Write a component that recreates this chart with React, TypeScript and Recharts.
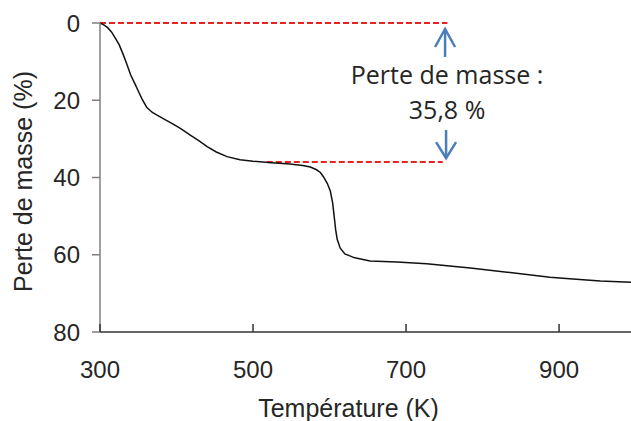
import { LineChart, Line, XAxis, YAxis, ReferenceLine, ReferenceDot } from 'recharts';

// ATG : perte de masse en fonction de la température
const temperature = [
  300, 305, 310, 315, 320, 325, 330, 335, 340, 346, 350, 355, 361, 368, 374, 385, 395, 405,
  418, 430, 440, 452, 466, 483, 500, 520, 548, 565, 575, 583, 588, 592, 597, 601, 604, 606,
  608, 610, 614, 620, 633, 653, 688, 727, 757, 784, 832, 888, 918, 954, 994,
];
const perte = [
  0, 0.5, 1.2, 2.3, 3.9, 5.6, 8.0, 10.6, 13.4, 15.9, 17.6, 19.7, 21.8, 23.1, 23.8, 25.0, 26.1, 27.3,
  29.0, 30.6, 32.0, 33.4, 34.6, 35.4, 35.8, 36.1, 36.5, 36.9, 37.3, 38.0, 38.7, 39.8, 41.5, 43.5, 46.5, 50.0,
  53.5, 56.0, 58.3, 59.8, 60.8, 61.6, 61.9, 62.3, 62.9, 63.4, 64.5, 65.8, 66.3, 66.8, 67.1,
];
const data = temperature.map((t, i) => ({ t, perte: perte[i] }));

const xTicks = [300, 500, 700, 900];
const yTicks = [0, 20, 40, 60, 80];

// annotation du palier
const niveauHaut = 0;
const niveauBas = 36;
const ligneHaut = [{ x: 300, y: niveauHaut }, { x: 754, y: niveauHaut }];
const ligneBas = [{ x: 518, y: niveauBas }, { x: 748, y: niveauBas }];
const flecheT = 751;
const noteLignes = ['Perte de masse :', '35,8 %'];

const axisFont = '"Liberation Sans", Arial, sans-serif';
const noteFont = '"Open Sans", sans-serif';
const bleu = '#4a7ebb';
const textColor = '#262626';

const XTick = ({ x, y, payload }: any) => (
  <g>
    <line x1={x} y1={y} x2={x} y2={y - 8} stroke="#333" strokeWidth={1.5} />
    <text x={x} y={y + 46} textAnchor="middle" fontFamily={axisFont} fontSize={24} fill={textColor}>
      {payload.value}
    </text>
  </g>
);

const FlecheHaut = ({ cx, cy }: any) => (
  <g>
    <line x1={cx} y1={cy + 34} x2={cx} y2={cy + 6} stroke={bleu} strokeWidth={2.5} />
    <polyline
      points={`${cx - 10},${cy + 24} ${cx},${cy + 6} ${cx + 10},${cy + 24}`}
      fill="none"
      stroke={bleu}
      strokeWidth={2.5}
    />
    <text x={cx + 2} y={cy + 61} textAnchor="middle" fontFamily={noteFont} fontSize={25} fill={textColor}>
      {noteLignes[0]}
    </text>
    <text x={cx + 2} y={cy + 96} textAnchor="middle" fontFamily={noteFont} fontSize={25} fill={textColor}>
      {noteLignes[1]}
    </text>
  </g>
);

const FlecheBas = ({ cx, cy }: any) => (
  <g>
    <line x1={cx + 1} y1={cy - 32} x2={cx + 1} y2={cy - 4} stroke={bleu} strokeWidth={2.5} />
    <polyline
      points={`${cx - 9},${cy - 20} ${cx + 1},${cy - 4} ${cx + 11},${cy - 20}`}
      fill="none"
      stroke={bleu}
      strokeWidth={2.5}
    />
  </g>
);

const YTitle = ({ viewBox }: any) => {
  const x = viewBox.x + 32;
  const y = viewBox.y + viewBox.height / 2 + 4;
  return (
    <text x={x} y={y} transform={`rotate(-90, ${x}, ${y})`} textAnchor="middle"
      fontFamily={axisFont} fontSize={25} fill={textColor}>
      Perte de masse (%)
    </text>
  );
};

const XTitle = ({ viewBox }: any) => (
  <text x={viewBox.x + viewBox.width / 2 - 17} y={viewBox.y + 85} textAnchor="middle"
    fontFamily={axisFont} fontSize={25} fill={textColor}>
    Température (K)
  </text>
);

export default function App() {
  return (
    <div style={{ position: 'absolute', left: 0, top: 0, background: '#fff' }}>
      <LineChart width={631} height={421} data={data} margin={{ top: 23, right: 0, left: 0, bottom: 0 }}>
        <XAxis
          dataKey="t"
          type="number"
          domain={[300, 994]}
          ticks={xTicks}
          allowDataOverflow
          height={89}
          tickSize={0}
          tickMargin={0}
          tick={<XTick />}
          axisLine={{ stroke: '#333', strokeWidth: 1.5 }}
          label={<XTitle />}
        />
        <YAxis
          type="number"
          reversed
          domain={[0, 80]}
          ticks={yTicks}
          width={100}
          tickSize={8}
          tickMargin={12}
          tick={{ fontFamily: axisFont, fontSize: 24, fill: textColor }}
          tickLine={{ stroke: '#7f7f7f', strokeWidth: 1.5 }}
          axisLine={{ stroke: '#7f7f7f', strokeWidth: 1.5 }}
          label={<YTitle />}
        />
        <ReferenceLine segment={ligneHaut} stroke="#e8231e" strokeWidth={2} strokeDasharray="6 3" ifOverflow="visible" />
        <ReferenceLine segment={ligneBas} stroke="#e8231e" strokeWidth={2} strokeDasharray="6 3" ifOverflow="visible" />
        <Line
          type="linear"
          dataKey="perte"
          stroke="#111"
          strokeWidth={1.5}
          dot={false}
          isAnimationActive={false}
        />
        <ReferenceDot x={flecheT} y={niveauHaut} r={0} shape={(p: any) => <FlecheHaut {...p} />} ifOverflow="visible" />
        <ReferenceDot x={flecheT} y={niveauBas} r={0} shape={(p: any) => <FlecheBas {...p} />} ifOverflow="visible" />
      </LineChart>
    </div>
  );
}
